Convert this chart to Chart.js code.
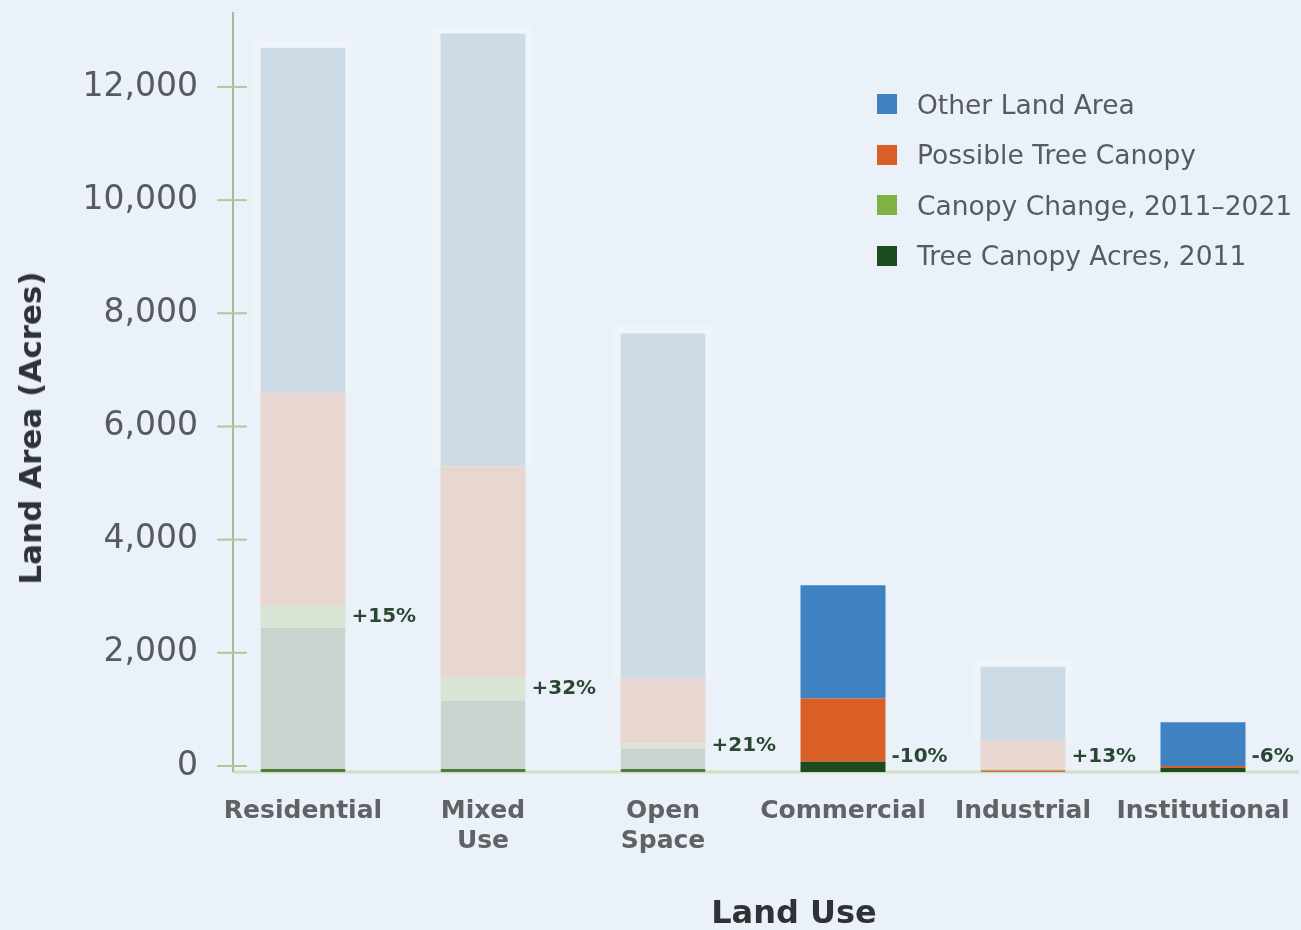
<!DOCTYPE html>
<html lang="en">
<head>
<meta charset="UTF-8">
<title>Land Use and Tree Canopy</title>
<script src="https://cdn.jsdelivr.net/npm/chart.js"></script>
<style>
  html, body { margin: 0; padding: 0; background: #ebf1f8; }
  #wrap { position: relative; width: 1301px; height: 930px; font-family: "DejaVu Sans", sans-serif; }
  #landChart { position: absolute; left: 0; top: 0; }
  .axis-title { position: absolute; font-weight: 700; color: #2e3235; white-space: nowrap; transform: translate(-50%, -50%); }
  #yTitle { left: 30px; top: 428px; font-size: 31px; transform: translate(-50%, -50%) rotate(-90deg); }
  #xTitle { left: 794px; top: 912px; font-size: 32px; }
  #legend { position: absolute; left: 877px; top: 79px; }
  .leg-item { height: 50.5px; display: flex; align-items: center; font-size: 26.5px; color: #565b5f; }
  .leg-box { width: 20px; height: 20px; margin-right: 20px; }
</style>
</head>
<body>
<div id="wrap">
  <canvas id="landChart"></canvas>
  <div id="yTitle" class="axis-title">Land Area (Acres)</div>
  <div id="xTitle" class="axis-title">Land Use</div>
  <div id="legend"></div>
</div>
<script>
  // land use categories
  const categories = ['Residential', ['Mixed', 'Use'], ['Open', 'Space'], 'Commercial', 'Industrial', 'Institutional'];

  // acres per category
  const canopy2011 = [2550, 1270, 420, 180, 60, 70];
  const canopyChange = [400, 400, 90, 0, 8, 0];
  const possibleCanopy = [3750, 3730, 1140, 1120, 490, 35];
  const otherLand = [6100, 7650, 6100, 2000, 1300, 775];

  // change in canopy 2011-2021
  const changeLabels = ['+15%', '+32%', '+21%', '-10%', '+13%', '-6%'];

  // which bars are drawn in full colour
  const highlighted = [false, false, false, true, false, true];

  const yTicks = [0, 2000, 4000, 6000, 8000, 10000, 12000];

  const FONT = '"DejaVu Sans", sans-serif';

  function pick(full, faded) {
    return ctx => highlighted[ctx.dataIndex] ? full : faded;
  }

  const datasets = [
    { label: 'Tree Canopy Acres, 2011', data: canopy2011, color: '#1d4b1f', backgroundColor: pick('#1d4b1f', '#c9d4cf'),
      borderColor: ctx => ctx.dataIndex === 4 ? '#dc6a2c' : '#4d7d3c',
      borderWidth: ctx => highlighted[ctx.dataIndex] ? 0 : { top: 0, left: 0, right: 0, bottom: 3 },
      borderSkipped: false },
    { label: 'Canopy Change, 2011\u20132021', data: canopyChange, color: '#7cb342', backgroundColor: pick('#7cb342', '#d9e4d5') },
    { label: 'Possible Tree Canopy', data: possibleCanopy, color: '#d95f27', backgroundColor: pick('#d95f27', '#e8d7d0') },
    { label: 'Other Land Area', data: otherLand, color: '#3f82c1', backgroundColor: pick('#3f82c1', '#cddbe6') }
  ];

  // legend, top of stack first
  const legend = document.getElementById('legend');
  datasets.slice().reverse().forEach(ds => {
    const item = document.createElement('div');
    item.className = 'leg-item';
    item.innerHTML = '<span class="leg-box" style="background:' + ds.color + '"></span>' + ds.label;
    legend.appendChild(item);
  });

  // lighter frame behind the faded bars, plus the x axis line
  const haloPlugin = {
    id: 'halo',
    beforeDatasetsDraw(chart) {
      const ctx = chart.ctx;
      const area = chart.chartArea;
      const top = chart.getDatasetMeta(3).data;
      ctx.save();
      ctx.fillStyle = '#eff4f9';
      top.forEach((bar, i) => {
        if (highlighted[i]) return;
        const w = bar.width;
        ctx.fillRect(bar.x - w / 2 - 7, bar.y - 7, w + 14, bar.base - bar.y + 7);
      });
      ctx.strokeStyle = '#cfe1bf';
      ctx.lineWidth = 3;
      ctx.beginPath();
      ctx.moveTo(area.left + 20, area.bottom);
      ctx.lineTo(chart.width - 2, area.bottom);
      ctx.stroke();
      ctx.restore();
    }
  };

  // y axis line with ticks crossing it
  const axisPlugin = {
    id: 'yAxisLine',
    afterDatasetsDraw(chart) {
      const ctx = chart.ctx;
      const area = chart.chartArea;
      const y = chart.scales.y;
      const ax = area.left + 20;
      ctx.save();
      ctx.strokeStyle = '#a7bd88';
      ctx.lineWidth = 2;
      ctx.beginPath();
      ctx.moveTo(ax, area.top);
      ctx.lineTo(ax, area.bottom);
      ctx.stroke();
      ctx.strokeStyle = '#b3c69a';
      yTicks.forEach(v => {
        const py = y.getPixelForValue(v) - 6;
        ctx.beginPath();
        ctx.moveTo(ax - 16, py);
        ctx.lineTo(ax + 14, py);
        ctx.stroke();
      });
      ctx.restore();
    }
  };

  // percentage labels beside each bar
  const changePlugin = {
    id: 'changeLabels',
    afterDatasetsDraw(chart) {
      const ctx = chart.ctx;
      const y = chart.scales.y;
      const bars = chart.getDatasetMeta(0).data;
      const floor = y.getPixelForValue(0) - 15;
      ctx.save();
      ctx.font = '700 20px ' + FONT;
      ctx.fillStyle = '#2a4634';
      ctx.textAlign = 'left';
      ctx.textBaseline = 'middle';
      bars.forEach((bar, i) => {
        const mid = y.getPixelForValue(canopy2011[i] + canopyChange[i] / 2);
        ctx.fillText(changeLabels[i], bar.x + bar.width / 2 + 6, Math.min(mid, floor));
      });
      ctx.restore();
    }
  };

  new Chart(document.getElementById('landChart'), {
    type: 'bar',
    data: { labels: categories, datasets: datasets },
    options: {
      responsive: true,
      maintainAspectRatio: false,
      animation: false,
      layout: { padding: { top: 12, right: 8, left: 0, bottom: 0 } },
      datasets: { bar: { categoryPercentage: 1, barPercentage: 0.472 } },
      plugins: { legend: { display: false }, tooltip: { enabled: false } },
      scales: {
        x: {
          stacked: true,
          grid: { display: false, drawTicks: false },
          border: { display: false },
          ticks: { font: { family: FONT, size: 25, weight: '700', lineHeight: 1.2 }, color: '#5f6366', padding: 24, maxRotation: 0, autoSkip: false },
          afterFit: s => { s.height = 158; s.paddingLeft = 0; s.paddingRight = 0; }
        },
        y: {
          stacked: true,
          min: 0,
          max: 13430,
          afterBuildTicks: s => { s.ticks = yTicks.map(v => ({ value: v })); },
          grid: { display: false, drawTicks: false },
          border: { display: false },
          ticks: { font: { family: FONT, size: 33 }, color: '#575b5f', padding: 15, labelOffset: -6,
                   callback: v => v.toLocaleString('en-US') },
          afterFit: s => { s.width = 213; s.paddingTop = 0; s.paddingBottom = 0; }
        }
      }
    },
    plugins: [haloPlugin, axisPlugin, changePlugin]
  });
</script>
</body>
</html>
